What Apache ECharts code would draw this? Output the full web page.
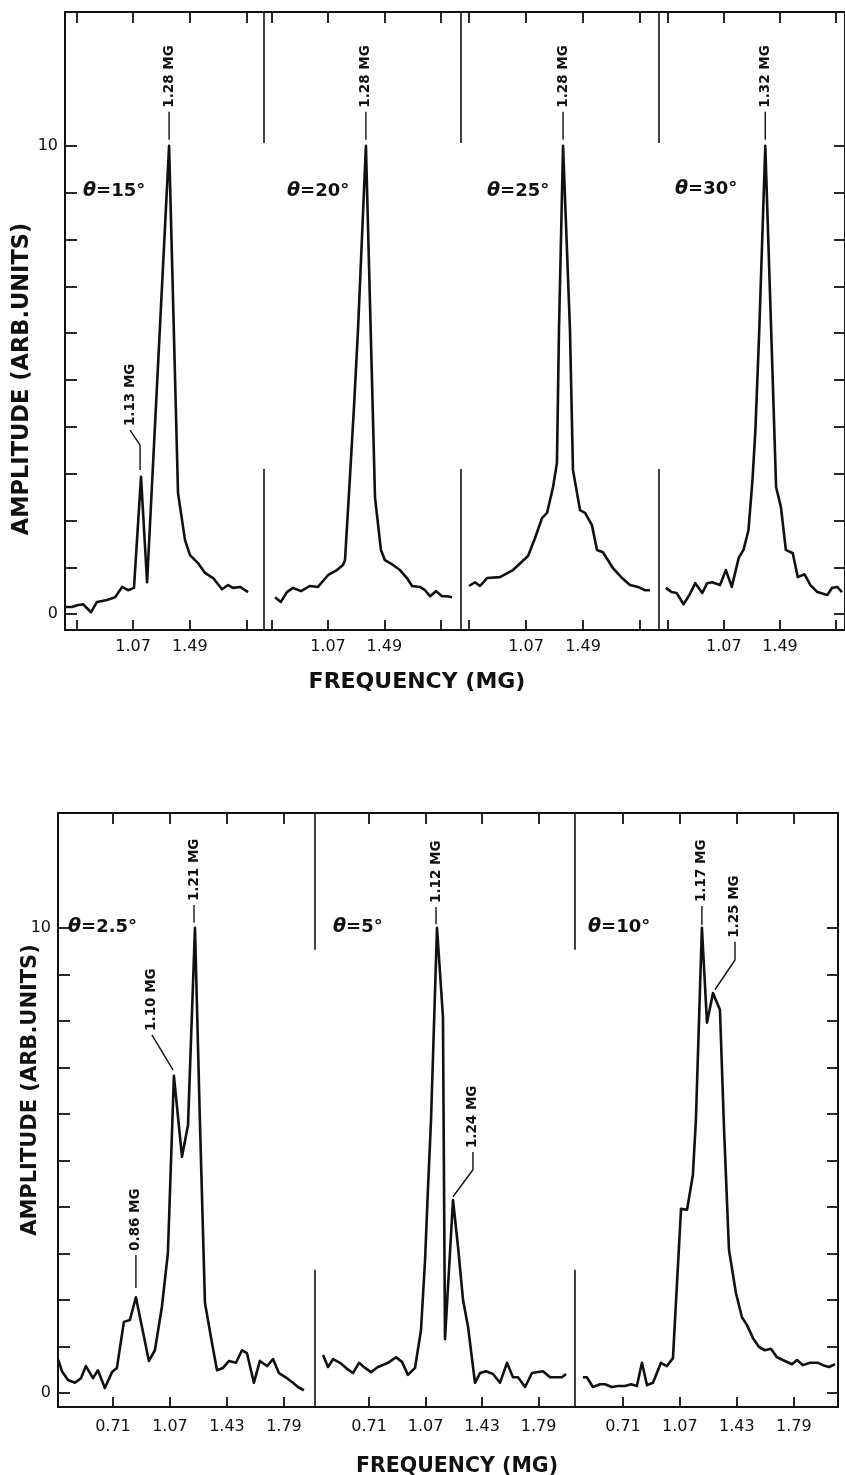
<!DOCTYPE html>
<html>
<head>
<meta charset="utf-8">
<script src="https://cdn.jsdelivr.net/npm/echarts@6/dist/echarts.min.js"></script>
<style>
html,body{margin:0;padding:0;background:#fff;}
#main{width:845px;height:1475px;}
</style>
</head>
<body>
<div id="main"></div>
<script>
// ---------- DATA ----------
// Upper figure: frequency (MG) and amplitude (arb. units)
const freq15 = [0.57,0.618,0.655,0.70,0.759,0.803,0.877,0.937,0.989,1.033,1.077,1.129,1.174,1.337,1.403,1.455,1.492,1.551,1.603,1.663,1.729,1.774,1.811,1.863,1.922];
const amp15  = [0.15,0.15,0.19,0.21,0.04,0.26,0.30,0.36,0.58,0.51,0.56,2.93,0.68,10.0,2.59,1.58,1.26,1.09,0.88,0.77,0.53,0.62,0.56,0.58,0.47];

const freq20 = [0.675,0.719,0.764,0.809,0.869,0.936,0.995,1.07,1.137,1.182,1.197,1.234,1.264,1.294,1.353,1.421,1.465,1.495,1.555,1.607,1.659,1.697,1.756,1.794,1.831,1.876,1.920,1.958,1.995];
const amp20  = [0.36,0.26,0.47,0.56,0.49,0.60,0.58,0.83,0.94,1.05,1.15,2.93,4.42,6.07,10.0,2.48,1.37,1.15,1.05,0.94,0.77,0.60,0.58,0.51,0.38,0.49,0.38,0.38,0.36];

const freq25 = [0.65,0.694,0.731,0.783,0.878,0.974,1.085,1.136,1.188,1.225,1.269,1.298,1.313,1.343,1.394,1.416,1.468,1.505,1.556,1.593,1.637,1.711,1.778,1.836,1.895,1.947,1.984];
const amp25  = [0.60,0.68,0.60,0.77,0.79,0.94,1.24,1.62,2.05,2.16,2.71,3.23,6.07,10.0,6.07,3.08,2.22,2.16,1.90,1.37,1.32,0.98,0.77,0.62,0.58,0.51,0.51];

const freq30 = [0.635,0.679,0.716,0.768,0.812,0.856,0.908,0.945,0.982,1.041,1.085,1.129,1.181,1.217,1.254,1.284,1.306,1.335,1.380,1.424,1.461,1.497,1.534,1.586,1.623,1.674,1.718,1.770,1.844,1.881,1.918,1.955];
const amp30  = [0.56,0.47,0.45,0.21,0.41,0.66,0.45,0.66,0.68,0.62,0.94,0.58,1.20,1.37,1.79,2.86,3.93,6.07,10.0,6.07,2.71,2.29,1.37,1.30,0.79,0.85,0.62,0.47,0.41,0.56,0.58,0.47];

// Lower figure
const freq2p5 = [0.365,0.388,0.426,0.470,0.508,0.539,0.584,0.615,0.659,0.704,0.735,0.779,0.817,0.855,0.937,0.975,1.019,1.057,1.095,1.146,1.184,1.228,1.259,1.291,1.329,1.367,1.405,1.443,1.487,1.525,1.556,1.600,1.638,1.683,1.721,1.758,1.809,1.847,1.878,1.916];
const amp2p5  = [0.71,0.47,0.28,0.22,0.32,0.58,0.32,0.49,0.11,0.45,0.54,1.53,1.57,2.06,0.69,0.92,1.85,3.01,6.82,5.08,5.76,10.0,5.87,1.94,1.20,0.49,0.54,0.69,0.65,0.92,0.86,0.22,0.69,0.58,0.73,0.43,0.32,0.22,0.13,0.06];

const freq5 = [0.417,0.449,0.481,0.525,0.570,0.608,0.646,0.685,0.723,0.767,0.831,0.882,0.920,0.958,1.003,1.041,1.067,1.086,1.105,1.143,1.181,1.194,1.245,1.277,1.309,1.341,1.385,1.417,1.455,1.500,1.544,1.589,1.627,1.659,1.704,1.748,1.818,1.863,1.908,1.939,1.965];
const amp5  = [0.82,0.56,0.73,0.65,0.52,0.43,0.65,0.54,0.45,0.56,0.65,0.77,0.67,0.39,0.54,1.35,2.86,4.43,5.87,10.0,8.09,1.16,4.15,3.14,2.0,1.42,0.22,0.43,0.47,0.41,0.22,0.65,0.34,0.34,0.13,0.43,0.47,0.34,0.34,0.34,0.41];

const freq10 = [0.457,0.482,0.520,0.565,0.596,0.640,0.678,0.723,0.761,0.798,0.830,0.862,0.900,0.950,0.988,1.026,1.077,1.115,1.152,1.171,1.209,1.241,1.279,1.323,1.349,1.380,1.424,1.462,1.494,1.532,1.570,1.607,1.645,1.683,1.734,1.778,1.810,1.848,1.892,1.942,1.974,2.012,2.050];
const amp10  = [0.34,0.34,0.13,0.19,0.19,0.13,0.15,0.15,0.19,0.15,0.65,0.17,0.22,0.65,0.58,0.75,3.96,3.94,4.69,5.87,10.0,7.96,8.60,8.24,5.66,3.08,2.15,1.63,1.46,1.18,0.99,0.92,0.95,0.77,0.69,0.62,0.71,0.60,0.65,0.65,0.60,0.56,0.62];

// Tick values and labels
const topTicks = [0.65,1.07,1.49,1.91];
const topTickLabels = [1.07,1.49];
const bottomTicks = [0.71,1.07,1.43,1.79];
const bottomTickLabels = [0.71,1.07,1.43,1.79];
const ampTicks = [0,1,2,3,4,5,6,7,8,9,10];
const ampTickLabels = [0,10];

// Angle labels
const thetaTop = ['15','20','25','30'];
const thetaBottom = ['2.5','5','10'];

// Peak annotations: text and leader path (in data units)
const notes15 = [{text:'1.28 MG', path:[[1.337,10.13],[1.337,10.73]]},
                 {text:'1.13 MG', path:[[1.122,3.08],[1.122,3.61],[1.048,3.93]]}];
const notes20 = [{text:'1.28 MG', path:[[1.353,10.13],[1.353,10.73]]}];
const notes25 = [{text:'1.28 MG', path:[[1.343,10.13],[1.343,10.73]]}];
const notes30 = [{text:'1.32 MG', path:[[1.380,10.13],[1.380,10.73]]}];
const notes2p5 = [{text:'1.21 MG', path:[[1.222,10.11],[1.222,10.49]]},
                  {text:'1.10 MG', path:[[1.089,6.95],[0.956,7.70]]},
                  {text:'0.86 MG', path:[[0.855,2.26],[0.855,2.97]]}];
const notes5 = [{text:'1.12 MG', path:[[1.137,10.08],[1.137,10.45]]},
                {text:'1.24 MG', path:[[1.245,4.22],[1.372,4.80],[1.372,5.18]]}];
const notes10 = [{text:'1.17 MG', path:[[1.209,10.06],[1.209,10.47]]},
                 {text:'1.25 MG', path:[[1.291,8.67],[1.418,9.31],[1.418,9.70]]}];

// ---------- LAYOUT ----------
const INK = '#111';
const FONT = 'DejaVu Sans';
const TOP_Y = [-0.34, 12.86];
const BOT_Y = [-0.30, 12.47];

const panels = [
  {grid:{left:65, top:12, width:199, height:618}, xr:[0.566,2.040], yr:TOP_Y, freq:freq15, amp:amp15, notes:notes15, theta:thetaTop[0], tpos:[83,182], ticks:topTicks, labels:topTickLabels, lm:9, first:true, last:false, div:[10.06,3.1]},
  {grid:{left:264, top:12, width:197, height:618}, xr:[0.593,2.062], yr:TOP_Y, freq:freq20, amp:amp20, notes:notes20, theta:thetaTop[1], tpos:[287,182], ticks:topTicks, labels:topTickLabels, lm:9, first:false, last:false, div:[10.06,3.1]},
  {grid:{left:461, top:12, width:198, height:618}, xr:[0.591,2.050], yr:TOP_Y, freq:freq25, amp:amp25, notes:notes25, theta:thetaTop[2], tpos:[487,182], ticks:topTicks, labels:topTickLabels, lm:9, first:false, last:false, div:[10.06,3.1]},
  {grid:{left:659, top:12, width:189, height:618}, xr:[0.584,1.977], yr:TOP_Y, freq:freq30, amp:amp30, notes:notes30, theta:thetaTop[3], tpos:[675,180], ticks:topTicks, labels:topTickLabels, lm:9, first:false, last:true, div:null},
  {grid:{left:58, top:813, width:257, height:594}, xr:[0.363,1.986], yr:BOT_Y, freq:freq2p5, amp:amp2p5, notes:notes2p5, theta:thetaBottom[0], tpos:[68,918], ticks:bottomTicks, labels:bottomTickLabels, lm:12, first:true, last:false, div:[9.53,2.65]},
  {grid:{left:315, top:813, width:260, height:594}, xr:[0.366,2.022], yr:BOT_Y, freq:freq5, amp:amp5, notes:notes5, theta:thetaBottom[1], tpos:[333,918], ticks:bottomTicks, labels:bottomTickLabels, lm:12, first:false, last:false, div:[9.53,2.65]},
  {grid:{left:575, top:813, width:263, height:594}, xr:[0.407,2.069], yr:BOT_Y, freq:freq10, amp:amp10, notes:notes10, theta:thetaBottom[2], tpos:[588,918], ticks:bottomTicks, labels:bottomTickLabels, lm:12, first:false, last:true, div:null}
];

const grid = [], xAxis = [], yAxis = [], series = [], title = [];
const axisLine = {show:true, onZero:false, lineStyle:{color:INK, width:2}};

panels.forEach((p, i) => {
  grid.push(Object.assign({containLabel:false}, p.grid));
  const xb = xAxis.length;
  xAxis.push({type:'value', gridIndex:i, min:p.xr[0], max:p.xr[1], position:'bottom',
    axisLine, splitLine:{show:false},
    axisTick:{show:true, inside:true, length:10, customValues:p.ticks, lineStyle:{color:INK, width:1.8}},
    axisLabel:{show:true, customValues:p.labels, formatter:v => v.toFixed(2), fontSize:16, fontFamily:FONT, color:INK, margin:p.lm}});
  xAxis.push({type:'value', gridIndex:i, min:p.xr[0], max:p.xr[1], position:'top',
    axisLine, splitLine:{show:false},
    axisTick:{show:true, inside:true, length:11, customValues:p.ticks, lineStyle:{color:INK, width:1.8}},
    axisLabel:{show:false}});
  const yl = yAxis.length;
  yAxis.push({type:'value', gridIndex:i, min:p.yr[0], max:p.yr[1], position:'left', show:p.first,
    axisLine, splitLine:{show:false},
    axisTick:{show:true, inside:true, length:12, customValues:ampTicks, lineStyle:{color:INK, width:1.8}},
    axisLabel:{show:true, customValues:ampTickLabels, fontSize:16, fontFamily:FONT, color:INK, margin:7}});
  if (p.last) {
    yAxis.push({type:'value', gridIndex:i, min:p.yr[0], max:p.yr[1], position:'right',
      axisLine, splitLine:{show:false},
      axisTick:{show:true, inside:true, length:11, customValues:ampTicks, lineStyle:{color:INK, width:1.8}},
      axisLabel:{show:false}});
  }
  const main = {type:'line', xAxisIndex:xb, yAxisIndex:yl, symbol:'none', clip:false, silent:true,
    lineStyle:{color:INK, width:2.6, join:'round'},
    data:p.freq.map((f, k) => [f, p.amp[k]])};
  if (p.div) {
    main.markLine = {silent:true, symbol:['none','none'], label:{show:false},
      lineStyle:{color:INK, width:1.6, type:'solid'},
      data:[[{coord:[p.xr[1], p.yr[1]]},{coord:[p.xr[1], p.div[0]]}],
            [{coord:[p.xr[1], p.div[1]]},{coord:[p.xr[1], p.yr[0]]}]]};
  }
  series.push(main);
  p.notes.forEach(n => {
    series.push({type:'line', xAxisIndex:xb, yAxisIndex:yl, silent:true, clip:false,
      showSymbol:true, symbolSize:0, lineStyle:{color:INK, width:1.4},
      data:n.path.map((pt, k) => k === n.path.length - 1 ?
        {value:pt, label:{show:true, formatter:n.text, position:'top', distance:4, rotate:90,
          align:'left', verticalAlign:'middle', fontSize:13.5, fontWeight:'bold', fontFamily:FONT, color:INK}} : pt)});
  });
  title.push({text:'{a|θ}{b|=' + p.theta + '°}', left:p.tpos[0], top:p.tpos[1], padding:0,
    textStyle:{rich:{a:{fontFamily:FONT, fontSize:19, fontStyle:'italic', fontWeight:'bold', color:INK},
                     b:{fontFamily:FONT, fontSize:18, fontWeight:'bold', color:INK}}}});
});

const graphic = [
  {type:'text', x:22, y:379, rotation:Math.PI/2,
   style:{text:'AMPLITUDE (ARB.UNITS)', font:'bold 22.5px "DejaVu Sans"', fill:INK, align:'center', verticalAlign:'middle', textAlign:'center', textVerticalAlign:'middle'}},
  {type:'text', x:417, y:682,
   style:{text:'FREQUENCY (MG)', font:'bold 22px "DejaVu Sans"', fill:INK, align:'center', verticalAlign:'middle', textAlign:'center', textVerticalAlign:'middle'}},
  {type:'text', x:31, y:1090, rotation:Math.PI/2,
   style:{text:'AMPLITUDE (ARB.UNITS)', font:'bold 21px "DejaVu Sans"', fill:INK, align:'center', verticalAlign:'middle', textAlign:'center', textVerticalAlign:'middle'}},
  {type:'text', x:457, y:1467,
   style:{text:'FREQUENCY (MG)', font:'bold 20.5px "DejaVu Sans"', fill:INK, align:'center', verticalAlign:'middle', textAlign:'center', textVerticalAlign:'middle'}}
];

const chart = echarts.init(document.getElementById('main'), null, {renderer:'canvas'});
chart.setOption({
  backgroundColor:'#fff',
  animation:false,
  title, grid, xAxis, yAxis, series, graphic
});
</script>
</body>
</html>
